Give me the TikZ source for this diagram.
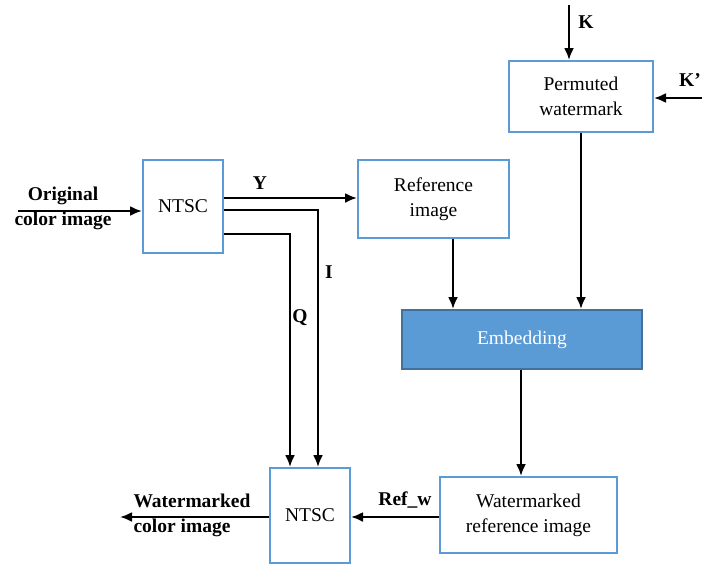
\documentclass[tikz,border=0pt]{standalone}
\usepackage{fontspec}
\setmainfont{Liberation Serif}
\usetikzlibrary{arrows.meta}
\definecolor{boxblue}{HTML}{5B9BD5}
\definecolor{embfill}{HTML}{5B9BD5}
\definecolor{embdraw}{HTML}{41719C}
\begin{document}
\begin{tikzpicture}[x=1pt,y=-1pt,
  blk/.style={draw=boxblue,line width=2pt,fill=white,inner sep=0pt,align=center,
    font=\fontsize{19.5}{25}\selectfont},
  lab/.style={font=\bfseries\fontsize{19.5}{25}\selectfont,inner sep=0pt},
  conn/.style={line width=2.2pt,-{Latex[length=12pt,width=10pt]}}]
\useasboundingbox (0,0) rectangle (702,565);
% boxes
\node[blk,minimum width=144pt,minimum height=71pt] (perm) at (581,96.5) {Permuted\\watermark};
\node[blk,minimum width=80pt,minimum height=93pt] (ntsc1) at (183,206.5) {NTSC};
\node[blk,minimum width=151pt,minimum height=78pt] (ref) at (433.5,199) {Reference\\image};
\node[blk,draw=embdraw,fill=embfill,text=white,minimum width=240pt,minimum height=59pt] (emb) at (522,339.5) {Embedding};
\node[blk,minimum width=177pt,minimum height=76pt] (wref) at (528.5,515) {Watermarked\\reference image};
\node[blk,minimum width=80pt,minimum height=95pt] (ntsc2) at (310,515.5) {NTSC};
% free ends
\coordinate (kin) at (569,5);
\coordinate (kpin) at (710,98);
\coordinate (orig) at (18,211);
\coordinate (outc) at (120,517);
% labels
\node[lab] (klab) at (586,22) {K};
\node[lab,anchor=east] (kplab) at (701,80) {K'};
\node[lab,align=center] (origlab) at (63,208) {Original\\color image};
\node[lab] (ylab) at (260,183) {Y};
\node[lab] (ilab) at (329,272) {I};
\node[lab] (qlab) at (300,318) {Q};
\node[lab] (reflab) at (405,500) {Ref\_w};
\node[lab,align=left] (wclab) at (192,515) {Watermarked\\color image};
% connectors
\draw[conn] (kin) -- (kin |- perm.north);
\draw[conn] (kpin) -- (perm.east |- kpin);
\draw[conn] (orig) -- (ntsc1.west |- orig);
\draw[conn] (ntsc1.east |- 0,198) -- (ref.west |- 0,198);
\draw[conn] (ntsc1.east |- 0,210) -- (318,210) -- (318,0 |- ntsc2.north);
\draw[conn] (ntsc1.east |- 0,234) -- (290,234) -- (290,0 |- ntsc2.north);
\draw[conn] (453,0 |- ref.south) -- (453,0 |- emb.north);
\draw[conn] (perm.south) -- (perm.south |- emb.north);
\draw[conn] (521,0 |- emb.south) -- (521,0 |- wref.north);
\draw[conn] (wref.west |- 0,517) -- (ntsc2.east |- 0,517);
\draw[conn] (ntsc2.west |- 0,517) -- (outc);
\end{tikzpicture}
\end{document}
